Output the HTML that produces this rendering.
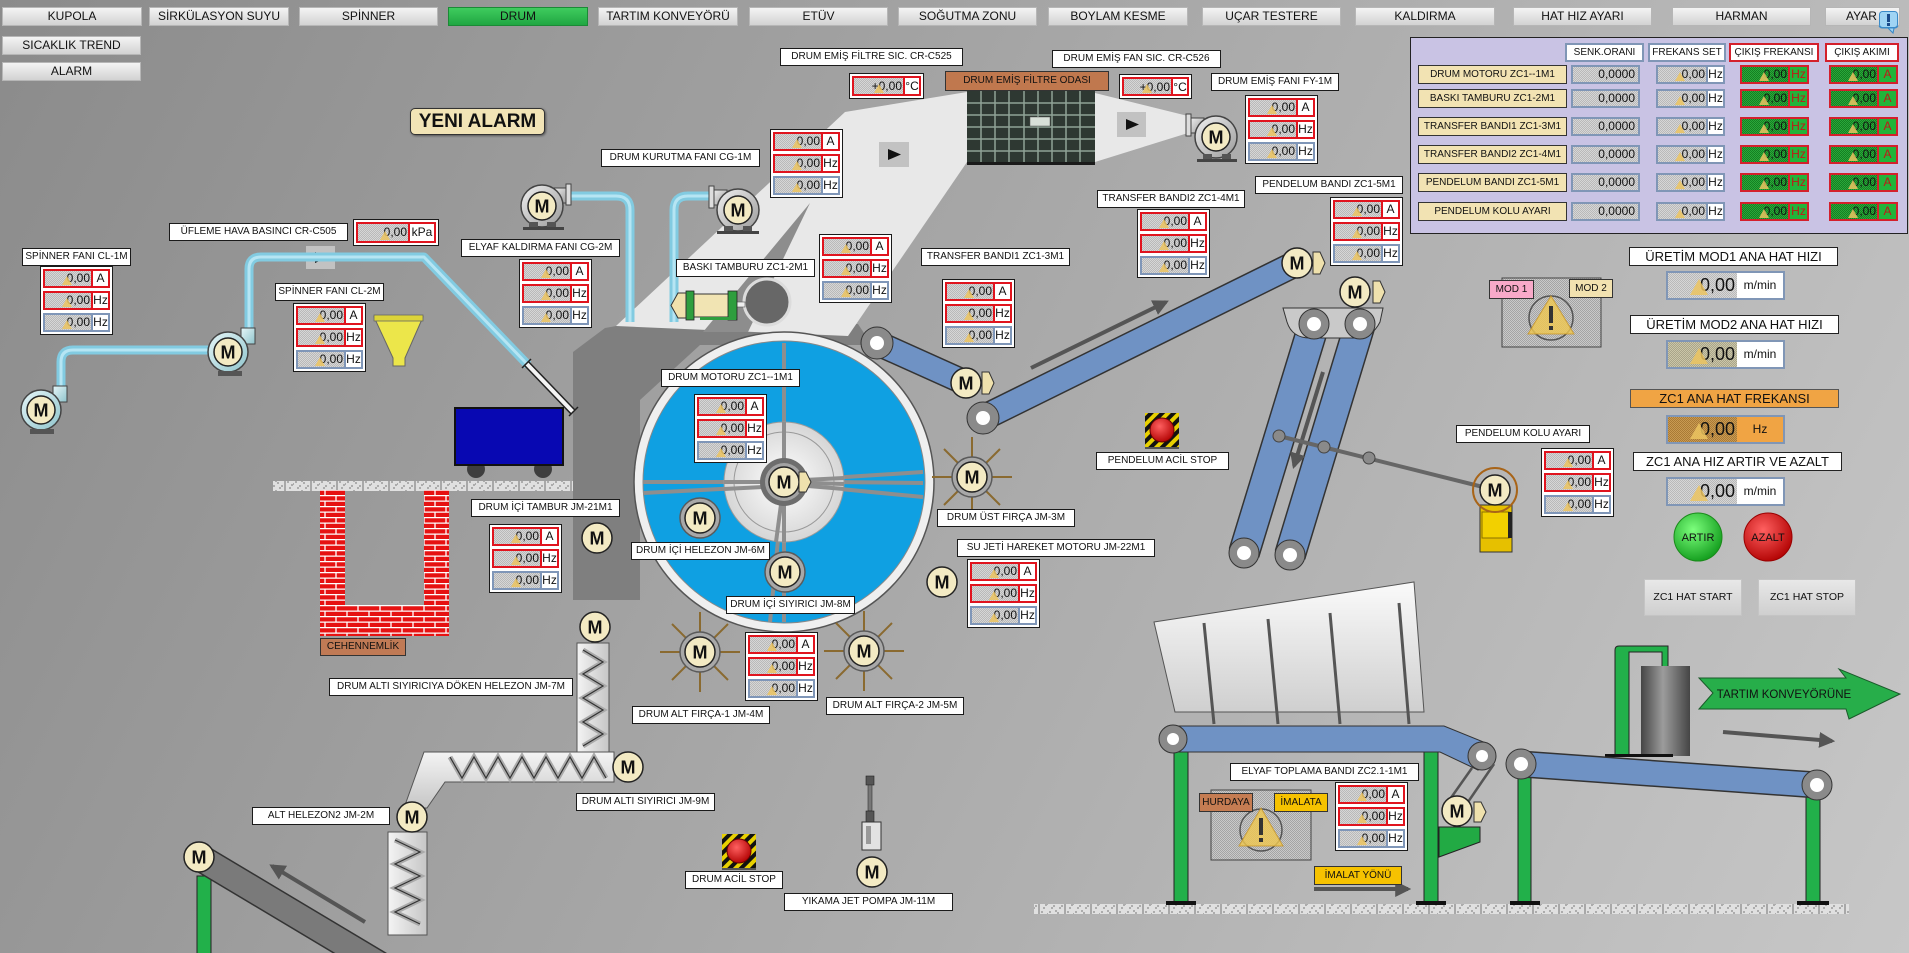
<!DOCTYPE html>
<html><head><meta charset="utf-8">
<style>
*{margin:0;padding:0;box-sizing:border-box}
html,body{width:1909px;height:953px;overflow:hidden}
body{position:relative;font-family:"Liberation Sans",Arial,sans-serif;color:#111;background:#9b9b9b}
#g{position:absolute;left:0;top:0}
svg text{font-family:"Liberation Sans",Arial,sans-serif}
text.m{font-weight:bold;font-size:18px;text-anchor:middle;fill:#111}
.nb{position:absolute;top:7px;height:19px;background:linear-gradient(#f4f4f4,#d2d2d2);border:1px solid #b6b6b6;font-size:12px;line-height:17px;text-align:center;white-space:nowrap}
.nb.on{background:linear-gradient(#3fcc5e,#20a642);border-color:#1b8a36}
.lb{position:absolute;height:18px;background:#fff;border:1px solid #1a1a1a;font-size:10px;line-height:16px;text-align:center;white-space:nowrap}
.bx{position:absolute;width:73px;height:69px;background:#fff;border:1px solid #1a1a1a}
.r{position:absolute;left:2px;width:67px;height:19px;border:2px solid #e0141e;background:#fff}
.r1{top:2px}.r2{top:24px}.r3{top:46px;border-color:#7f96b8}
.v{position:absolute;left:0;top:0;width:46px;height:15px;background:repeating-conic-gradient(#b9b9b9 0 25%,#d6d6d6 0 50%) 0 0/2px 2px;font-size:12px;line-height:15px;text-align:right;padding-right:1px;white-space:nowrap}
.u{position:absolute;left:46px;top:0;right:0;height:15px;border-left:2px solid #e0141e;background:#fff;font-size:12px;line-height:15px;text-align:center}
.r3 .u{border-left-color:#7f96b8}
.t{position:absolute;left:17px;bottom:1px;width:0;height:0;border-left:5px solid transparent;border-right:5px solid transparent;border-bottom:9px solid rgba(236,196,96,.85)}
.sb{position:absolute;background:#fff;border:1px solid #1a1a1a}
.sr{position:absolute;left:2px;top:2px;right:2px;bottom:2px;border:2px solid #e0141e;background:#fff}
.sr .v{height:100%;line-height:17px}
.sr .u{height:100%;line-height:17px}
.pn{position:absolute;left:1410px;top:37px;width:498px;height:197px;background:#c9c3e4;border:1px solid #222}
.ph{position:absolute;top:43px;height:19px;background:#fff;border:2px solid #8096b6;font-size:10px;line-height:15px;text-align:center;white-space:nowrap}
.ph.rd{border-color:#d4202c}
.pl{position:absolute;left:1418px;width:149px;height:19px;background:#f2e3b3;border:1px solid #333;font-size:10px;line-height:17px;text-align:center;white-space:nowrap}
.ps{position:absolute;left:1571px;width:69px;height:19px;border:2px solid #8096b6;background:repeating-conic-gradient(#b9b9b9 0 25%,#d6d6d6 0 50%) 0 0/2px 2px;font-size:12px;line-height:15px;text-align:right;padding-right:3px}
.pf{position:absolute;left:1656px;width:69px;height:19px;border:2px solid #8096b6;background:#fff}
.pf .v{width:48px}.pf .u{left:48px;border-left:2px solid #8096b6}
.pg{position:absolute;width:69px;height:19px;border:2px solid #d4202c;background:#2aa83a}
.pg .v{background:repeating-conic-gradient(#157f22 0 25%,#2aa83a 0 50%) 0 0/2px 2px;width:46px}
.pg .u{background:#22b43a;border-left:2px solid #d4202c;color:#c01818}
.bl{position:absolute;height:19px;background:#fff;border:1px solid #222;font-size:13px;line-height:17px;text-align:center;white-space:nowrap}
.bb{position:absolute;left:1666px;width:119px;height:29px;border:2px solid #8096b6;background:#fff}
.bb .v{width:69px;height:25px;font-size:18px;line-height:25px;padding-right:2px}
.bb .u{left:69px;height:25px;border-left:none;font-size:12px;line-height:25px}
.bb .t{left:22px;bottom:3px;border-left-width:9px;border-right-width:9px;border-bottom-width:16px}
.btn{position:absolute;top:579px;width:98px;height:37px;background:linear-gradient(#e8e8e8,#cfcfcf);border:1px solid #c4c4c4;font-size:10.5px;line-height:35px;text-align:center}
.tag{position:absolute;height:19px;border:1px solid #333;font-size:10px;line-height:17px;text-align:center;white-space:nowrap}
</style></head><body>
<svg id="g" width="1909" height="953" viewBox="0 0 1909 953">
<defs>
<linearGradient id="bg" x1="0" y1="0" x2="1909" y2="953" gradientUnits="userSpaceOnUse"><stop offset="0" stop-color="#8b8b8b"/><stop offset="1" stop-color="#c7c7c7"/></linearGradient>
<pattern id="brick" width="22" height="11" patternUnits="userSpaceOnUse"><rect width="22" height="11" fill="#e61212"/><path d="M0 .6H22M0 6.1H22M6 0V5.5M17 5.5V11" stroke="#fff" stroke-width="1.3"/></pattern>
<pattern id="gnd" width="26" height="10" patternUnits="userSpaceOnUse"><rect width="26" height="10" fill="#e0e0e0"/><path d="M1 2h2M5 5h2M9 2h2M13 6h2M17 3h2M21 6h2M3 8h2M11 8h2M19 8h2M7 4h1M15 1h2" stroke="#9a9a9a" stroke-width="1.5"/><rect x="24" width="2" height="10" fill="#a8a8a8"/></pattern>
<pattern id="hz" width="8" height="8" patternUnits="userSpaceOnUse" patternTransform="rotate(45)"><rect width="8" height="8" fill="#e8d000"/><rect width="4" height="8" fill="#111"/></pattern>
<pattern id="chk" width="2" height="2" patternUnits="userSpaceOnUse"><rect width="2" height="2" fill="#c9c9c9"/><rect width="1" height="1" fill="#a4a4a4"/><rect x="1" y="1" width="1" height="1" fill="#a4a4a4"/></pattern>
<radialGradient id="red" cx=".4" cy=".35" r=".7"><stop offset="0" stop-color="#ff6060"/><stop offset="1" stop-color="#b00000"/></radialGradient>
<radialGradient id="grn" cx=".4" cy=".35" r=".7"><stop offset="0" stop-color="#7dff7d"/><stop offset="1" stop-color="#0f9a1a"/></radialGradient>
<radialGradient id="inner"><stop offset="0" stop-color="#ffffff"/><stop offset="1" stop-color="#d6d6d6"/></radialGradient>
<linearGradient id="scr" x1="0" y1="0" x2="1" y2="0"><stop offset="0" stop-color="#f4f4f4"/><stop offset="1" stop-color="#c6c6c6"/></linearGradient>
<linearGradient id="scrh" x1="0" y1="0" x2="0" y2="1"><stop offset="0" stop-color="#f4f4f4"/><stop offset="1" stop-color="#c6c6c6"/></linearGradient>
<linearGradient id="hop" x1="0" y1="0" x2="0" y2="1"><stop offset="0" stop-color="#fafafa"/><stop offset="1" stop-color="#cfcfcf"/></linearGradient>
<linearGradient id="cyl" x1="0" y1="0" x2="1" y2="0"><stop offset="0" stop-color="#454545"/><stop offset=".45" stop-color="#9c9c9c"/><stop offset="1" stop-color="#454545"/></linearGradient>
<linearGradient id="fan" x1="0" y1="0" x2="1" y2="1"><stop offset="0" stop-color="#f0f0f0"/><stop offset="1" stop-color="#9a9a9a"/></linearGradient>
<linearGradient id="fanc" x1="0" y1="0" x2="1" y2="1"><stop offset="0" stop-color="#e6f6f8"/><stop offset="1" stop-color="#8fc4cc"/></linearGradient>
<marker id="ar" viewBox="0 0 10 10" refX="8" refY="5" markerWidth="4" markerHeight="4" orient="auto"><path d="M0 0L10 5L0 10z" fill="#555"/></marker>
</defs>
<rect width="1909" height="953" fill="url(#bg)"/>

<!-- housing -->
<polygon points="573,352 605,328 650,320 858,324 872,345 700,345 640,400 640,600 573,600" fill="#7f7f7f"/>
<!-- white duct -->
<polygon points="616,326 845,112 967,92 967,162 848,336" fill="#e8e8e8"/>
<polygon points="810,203 748,332 703,332" fill="#8d8d8d"/>
<polygon points="1095,93 1188,116 1188,133 1095,162" fill="#e8e8e8"/>
<!-- filter -->
<rect x="967" y="91" width="128" height="71" fill="#2e3832"/>
<g stroke="#8fa396" stroke-width="1.5">
<path d="M981 91V162M995 91V162M1009 91V162M1024 91V162M1038 91V162M1052 91V162M1066 91V162M1080 91V162"/>
<path d="M967 103H1095M967 115H1095M967 127H1095M967 139H1095M967 151H1095"/>
</g>
<rect x="1030" y="117" width="20" height="9" fill="#d8e0d8" stroke="#555" stroke-width=".5"/>
<rect x="967" y="162" width="128" height="3" fill="#1a1a1a"/>
<!-- play buttons -->
<rect x="306" y="246" width="29" height="23" fill="#c2c2c2"/><polygon points="315,252 327,257.5 315,263" fill="#111"/>
<rect x="879" y="142" width="30" height="25" fill="#c2c2c2"/><polygon points="888,149 901,154.5 888,160" fill="#111"/>
<rect x="1117" y="112" width="29" height="25" fill="#c2c2c2"/><polygon points="1126,119 1139,124.5 1126,130" fill="#111"/>

<!-- pipes -->
<g fill="none" stroke-linejoin="round">
<path d="M61,392 V362 Q61,350 73,350 H212 M249,332 V269 Q249,257 261,257 H424 L528,365 M567,196 H616 Q630,196 630,210 V322 M712,196 H688 Q674,196 674,210 V322" stroke="#82cbe1" stroke-width="9"/>
<path d="M61,392 V362 Q61,350 73,350 H212 M249,332 V269 Q249,257 261,257 H424 L528,365 M567,196 H616 Q630,196 630,210 V322 M712,196 H688 Q674,196 674,210 V322" stroke="#b6e5f3" stroke-width="3"/>
</g>
<line x1="526" y1="363" x2="573" y2="412" stroke="#222" stroke-width="7"/>
<line x1="526" y1="363" x2="573" y2="412" stroke="#f4f4f4" stroke-width="4"/>
<line x1="522" y1="368" x2="531" y2="359" stroke="#222" stroke-width="1.5"/>
<line x1="569" y1="416" x2="578" y2="407" stroke="#222" stroke-width="1.5"/>

<!-- fans -->
<rect x="53" y="386" width="14" height="16" fill="url(#fanc)" stroke="#444"/>
<circle cx="41" cy="410" r="20" fill="url(#fanc)" stroke="#444" stroke-width="1.5"/>
<rect x="30" y="429" width="24" height="5" fill="#555"/>
<circle cx="41" cy="410" r="14" fill="#f3eac3" stroke="#222" stroke-width="1.5"/><text class="m" x="41" y="416.5">M</text>

<rect x="241" y="328" width="14" height="16" fill="url(#fanc)" stroke="#444"/>
<circle cx="228" cy="352" r="20" fill="url(#fanc)" stroke="#444" stroke-width="1.5"/>
<rect x="218" y="371" width="24" height="5" fill="#555"/>
<circle cx="228" cy="352" r="14" fill="#f3eac3" stroke="#222" stroke-width="1.5"/><text class="m" x="228" y="358.5">M</text>

<rect x="553" y="188" width="14" height="15" fill="url(#fan)" stroke="#444"/><rect x="566" y="184" width="5" height="21" fill="#ddd" stroke="#444"/>
<circle cx="542" cy="206" r="21" fill="url(#fan)" stroke="#444" stroke-width="1.5"/>
<rect x="529" y="222" width="9" height="6" fill="#555"/><rect x="547" y="222" width="9" height="6" fill="#555"/><rect x="523" y="227" width="41" height="3" fill="#444"/>
<circle cx="542" cy="206" r="14" fill="#f3eac3" stroke="#222" stroke-width="1.5"/><text class="m" x="542" y="212.5">M</text>

<rect x="713" y="190" width="14" height="15" fill="url(#fan)" stroke="#444"/><rect x="709" y="186" width="5" height="22" fill="#ddd" stroke="#444"/>
<circle cx="738" cy="210" r="21" fill="url(#fan)" stroke="#444" stroke-width="1.5"/>
<rect x="724" y="226" width="9" height="6" fill="#555"/><rect x="743" y="226" width="9" height="6" fill="#555"/><rect x="717" y="231" width="42" height="3" fill="#444"/>
<circle cx="738" cy="210" r="14" fill="#f3eac3" stroke="#222" stroke-width="1.5"/><text class="m" x="738" y="216.5">M</text>

<rect x="1190" y="118" width="14" height="15" fill="url(#fan)" stroke="#444"/><rect x="1186" y="114" width="5" height="22" fill="#ddd" stroke="#444"/>
<circle cx="1216" cy="137" r="21" fill="url(#fan)" stroke="#444" stroke-width="1.5"/>
<rect x="1203" y="154" width="9" height="6" fill="#555"/><rect x="1222" y="154" width="9" height="6" fill="#555"/><rect x="1197" y="159" width="40" height="3" fill="#444"/>
<circle cx="1216" cy="137" r="14" fill="#f3eac3" stroke="#222" stroke-width="1.5"/><text class="m" x="1216" y="143.5">M</text>

<!-- funnel -->
<polygon points="374,317 423,317 405,358 405,366 393,366 393,358" fill="#ece64a" stroke="#666"/>
<rect x="374" y="315" width="49" height="6" fill="#dcd43a" stroke="#666" stroke-width=".8"/>
<!-- cart -->
<circle cx="476" cy="469" r="9" fill="#3e3e3e"/><circle cx="543" cy="469" r="9" fill="#3e3e3e"/>
<rect x="455" y="408" width="108" height="57" fill="#0808b2" stroke="#111" stroke-width="2"/>

<!-- ground strips -->
<rect x="273" y="481" width="300" height="10" fill="url(#gnd)"/>
<rect x="1034" y="904" width="815" height="10" fill="url(#gnd)"/>
<!-- bricks -->
<rect x="320" y="490" width="25" height="116" fill="url(#brick)"/>
<rect x="424" y="490" width="25" height="116" fill="url(#brick)"/>
<rect x="320" y="605" width="129" height="31" fill="url(#brick)"/>

<!-- baski tamburu -->
<circle cx="767" cy="302" r="23" fill="#676767" stroke="#dcdcdc" stroke-width="3"/>
<rect x="736" y="302" width="9" height="5" fill="#eee" stroke="#555" stroke-width=".6"/>
<rect x="693" y="294" width="36" height="23" fill="#f1e4b3" stroke="#333"/>
<rect x="686" y="291" width="8" height="29" fill="#2e9e3e" stroke="#222" stroke-width=".8"/>
<rect x="728" y="291" width="9" height="29" fill="#2e9e3e" stroke="#222" stroke-width=".8"/>
<rect x="700" y="317" width="36" height="3" fill="#2e9e3e"/>
<path d="M678,293 h8 v25 h-8 l-7,-12.5z" fill="#efe1ad" stroke="#333"/>

<!-- drum -->
<circle cx="784" cy="482" r="150" fill="#efefef" stroke="#555" stroke-width="1.5"/>
<circle cx="784" cy="482" r="141" fill="#0fa0e2" stroke="#888"/>
<g stroke="#8e8e8e" stroke-width="4">
<line x1="643" y1="482" x2="740" y2="482"/><line x1="643" y1="493" x2="740" y2="488"/>
<line x1="923" y1="472" x2="830" y2="478"/><line x1="923" y1="483" x2="830" y2="482"/><line x1="923" y1="497" x2="830" y2="488"/>
<line x1="784" y1="343" x2="784" y2="430"/><line x1="784" y1="540" x2="784" y2="622"/><line x1="778" y1="540" x2="770" y2="622"/>
</g>
<circle cx="784" cy="482" r="60" fill="url(#inner)" stroke="#9a9a9a"/>
<circle cx="784" cy="482" r="50" fill="none" stroke="#999"/>
<g stroke="#8e8e8e" stroke-width="4">
<line x1="724" y1="482" x2="784" y2="482"/><line x1="724" y1="489" x2="784" y2="486"/>
<line x1="844" y1="478" x2="784" y2="481"/><line x1="844" y1="484" x2="784" y2="482"/><line x1="844" y1="489" x2="784" y2="484"/>
<line x1="784" y1="422" x2="784" y2="542"/><line x1="784" y1="482" x2="776" y2="542"/>
</g>
<circle cx="784" cy="482" r="24" fill="#6d6d6d"/><circle cx="784" cy="482" r="19" fill="#a3a3a3"/>
<circle cx="784" cy="482" r="15" fill="#f3eac3" stroke="#222" stroke-width="1.5"/><text class="m" x="784" y="488.5">M</text>
<path d="M799,472 h7 l5,10 l-5,10 h-7z" fill="#efe1ad" stroke="#333"/>
<circle cx="700" cy="518" r="20" fill="#a8a8a8" stroke="#5a5a5a" stroke-width="1.5"/>
<circle cx="700" cy="518" r="15" fill="#f3eac3" stroke="#222" stroke-width="1.5"/><text class="m" x="700" y="524.5">M</text>
<circle cx="785" cy="572" r="20" fill="#a8a8a8" stroke="#5a5a5a" stroke-width="1.5"/>
<circle cx="785" cy="572" r="15" fill="#f3eac3" stroke="#222" stroke-width="1.5"/><text class="m" x="785" y="578.5">M</text>

<!-- brushes -->
<g stroke="#8a6a30" stroke-width="2">
<path d="M932,477h80M972,437v80M944,449l56,56M1000,449l-56,56"/>
<path d="M660,652h80M700,612v80M672,624l56,56M728,624l-56,56"/>
<path d="M824,651h80M864,611v80M836,623l56,56M892,623l-56,56"/>
</g>
<circle cx="972" cy="477" r="20" fill="#a8a8a8" stroke="#5a5a5a" stroke-width="1.5"/><circle cx="972" cy="477" r="15" fill="#f3eac3" stroke="#222" stroke-width="1.5"/><text class="m" x="972" y="483.5">M</text>
<circle cx="700" cy="652" r="20" fill="#a8a8a8" stroke="#5a5a5a" stroke-width="1.5"/><circle cx="700" cy="652" r="15" fill="#f3eac3" stroke="#222" stroke-width="1.5"/><text class="m" x="700" y="658.5">M</text>
<circle cx="864" cy="651" r="20" fill="#a8a8a8" stroke="#5a5a5a" stroke-width="1.5"/><circle cx="864" cy="651" r="15" fill="#f3eac3" stroke="#222" stroke-width="1.5"/><text class="m" x="864" y="657.5">M</text>

<!-- plain motors -->
<circle cx="597" cy="538" r="15" fill="#f3eac3" stroke="#222" stroke-width="1.5"/><text class="m" x="597" y="544.5">M</text>
<circle cx="942" cy="582" r="15" fill="#f3eac3" stroke="#222" stroke-width="1.5"/><text class="m" x="942" y="588.5">M</text>

<!-- transfer bands -->
<line x1="877" y1="343" x2="966" y2="383" stroke="#333" stroke-width="26" stroke-linecap="round"/>
<line x1="877" y1="343" x2="966" y2="383" stroke="#6f92c4" stroke-width="23" stroke-linecap="round"/>
<line x1="983" y1="418" x2="1297" y2="263" stroke="#333" stroke-width="27" stroke-linecap="round"/>
<line x1="983" y1="418" x2="1297" y2="263" stroke="#6f92c4" stroke-width="24" stroke-linecap="round"/>
<circle cx="877" cy="343" r="16" fill="#8a8a8a" stroke="#333"/><circle cx="877" cy="343" r="7" fill="#fff"/>
<circle cx="983" cy="418" r="16" fill="#8a8a8a" stroke="#333"/><circle cx="983" cy="418" r="7" fill="#fff"/>
<circle cx="966" cy="383" r="15" fill="#f3eac3" stroke="#222" stroke-width="1.5"/><text class="m" x="966" y="389.5">M</text>
<path d="M982,372 h7 l5,11 l-5,11 h-7z" fill="#efe1ad" stroke="#333"/>
<line x1="1031" y1="368" x2="1166" y2="302" stroke="#555" stroke-width="4" marker-end="url(#ar)"/>

<!-- pendulum -->
<polygon points="1329,336 1346,336 1276,553 1259,553" fill="#b3b3b3"/>
<line x1="1314" y1="324" x2="1244" y2="553" stroke="#333" stroke-width="32"/>
<line x1="1314" y1="324" x2="1244" y2="553" stroke="#6f92c4" stroke-width="29"/>
<line x1="1360" y1="324" x2="1290" y2="555" stroke="#333" stroke-width="32"/>
<line x1="1360" y1="324" x2="1290" y2="555" stroke="#6f92c4" stroke-width="29"/>
<line x1="1323" y1="372" x2="1294" y2="466" stroke="#555" stroke-width="4" marker-end="url(#ar)"/>
<path d="M1283,308 H1383 L1380,322 Q1372,338 1356,338 L1310,338 Q1292,338 1287,322 Z" fill="#c9c9c9" stroke="#333"/>
<circle cx="1314" cy="324" r="15" fill="#8a8a8a" stroke="#333"/><circle cx="1314" cy="324" r="7" fill="#fff"/>
<circle cx="1360" cy="324" r="15" fill="#8a8a8a" stroke="#333"/><circle cx="1360" cy="324" r="7" fill="#fff"/>
<circle cx="1244" cy="553" r="15" fill="#8a8a8a" stroke="#333"/><circle cx="1244" cy="553" r="7" fill="#fff"/>
<circle cx="1290" cy="555" r="15" fill="#8a8a8a" stroke="#333"/><circle cx="1290" cy="555" r="7" fill="#fff"/>
<line x1="1279" y1="436" x2="1495" y2="490" stroke="#666" stroke-width="4"/>
<circle cx="1279" cy="436" r="6" fill="#8a8a8a" stroke="#444"/><circle cx="1324" cy="447" r="6" fill="#8a8a8a" stroke="#444"/><circle cx="1369" cy="458" r="6" fill="#8a8a8a" stroke="#444"/>
<rect x="1480" y="505" width="32" height="47" fill="#e6c000" stroke="#333"/>
<rect x="1482" y="512" width="27" height="26" fill="#f2d000" stroke="#8a7000"/>
<rect x="1508" y="512" width="4" height="26" fill="#222"/>
<circle cx="1495" cy="490" r="22" fill="none" stroke="#a86418" stroke-width="2"/>
<circle cx="1495" cy="490" r="15" fill="#f3eac3" stroke="#222" stroke-width="1.5"/><text class="m" x="1495" y="496.5">M</text>
<circle cx="1297" cy="263" r="15" fill="#f3eac3" stroke="#222" stroke-width="1.5"/><text class="m" x="1297" y="269.5">M</text>
<path d="M1313,252 h7 l5,11 l-5,11 h-7z" fill="#efe1ad" stroke="#333"/>
<circle cx="1355" cy="292" r="15" fill="#f3eac3" stroke="#222" stroke-width="1.5"/><text class="m" x="1355" y="298.5">M</text>
<path d="M1373,281 h7 l5,11 l-5,11 h-7z" fill="#efe1ad" stroke="#333"/>

<!-- stop buttons -->
<rect x="722" y="834" width="34" height="34" fill="url(#hz)"/><circle cx="739" cy="851" r="12" fill="url(#red)" stroke="#600"/><rect x="722" y="868" width="34" height="2" fill="#555"/>
<rect x="1145" y="413" width="34" height="34" fill="url(#hz)"/><circle cx="1162" cy="430" r="12" fill="url(#red)" stroke="#600"/><rect x="1145" y="447" width="34" height="2" fill="#555"/>

<!-- screws -->
<rect x="577" y="643" width="32" height="109" fill="url(#scr)" stroke="#555"/>
<path d="M583,650 L603,662 L583,674 L603,686 L583,698 L603,710 L583,722 L603,734 L583,746" fill="none" stroke="#aaa" stroke-width="5"/>
<path d="M583,650 L603,662 L583,674 L603,686 L583,698 L603,710 L583,722 L603,734 L583,746" fill="none" stroke="#333" stroke-width="1.2"/>
<polygon points="424,752 614,752 614,782 445,782 427,808 404,808" fill="url(#scrh)" stroke="#555"/>
<path d="M450,757 L462,778 L474,757 L486,778 L498,757 L510,778 L522,757 L534,778 L546,757 L558,778 L570,757 L582,778 L594,757 L606,778" fill="none" stroke="#aaa" stroke-width="5"/>
<path d="M450,757 L462,778 L474,757 L486,778 L498,757 L510,778 L522,757 L534,778 L546,757 L558,778 L570,757 L582,778 L594,757 L606,778" fill="none" stroke="#333" stroke-width="1.2"/>
<rect x="388" y="832" width="39" height="103" fill="url(#scr)" stroke="#555"/>
<path d="M395,840 L420,852 L395,864 L420,876 L395,888 L420,900 L395,912 L420,924" fill="none" stroke="#aaa" stroke-width="5"/>
<path d="M395,840 L420,852 L395,864 L420,876 L395,888 L420,900 L395,912 L420,924" fill="none" stroke="#333" stroke-width="1.2"/>
<circle cx="595" cy="627" r="15" fill="#f3eac3" stroke="#222" stroke-width="1.5"/><text class="m" x="595" y="633.5">M</text>
<circle cx="628" cy="767" r="15" fill="#f3eac3" stroke="#222" stroke-width="1.5"/><text class="m" x="628" y="773.5">M</text>
<circle cx="412" cy="817" r="15" fill="#f3eac3" stroke="#222" stroke-width="1.5"/><text class="m" x="412" y="823.5">M</text>

<!-- bottom-left conveyor -->
<rect x="197" y="876" width="14" height="80" fill="#22b04a" stroke="#222"/>
<line x1="199" y1="857" x2="430" y2="995" stroke="#333" stroke-width="28"/>
<line x1="199" y1="857" x2="430" y2="995" stroke="#7a7a7a" stroke-width="25"/>
<line x1="365" y1="922" x2="272" y2="866" stroke="#555" stroke-width="4" marker-end="url(#ar)"/>
<circle cx="199" cy="857" r="15" fill="#f3eac3" stroke="#222" stroke-width="1.5"/><text class="m" x="199" y="863.5">M</text>

<!-- yikama pump -->
<rect x="866" y="776" width="8" height="9" fill="#555" stroke="#222" stroke-width=".6"/>
<rect x="868" y="785" width="4" height="26" fill="#777" stroke="#333" stroke-width=".6"/>
<rect x="866" y="811" width="8" height="11" fill="#555" stroke="#222" stroke-width=".6"/>
<rect x="862" y="822" width="19" height="28" fill="#e2e2e2" stroke="#333"/>
<rect x="866" y="826" width="5" height="18" fill="#999"/>
<circle cx="872" cy="872" r="15" fill="#f3eac3" stroke="#222" stroke-width="1.5"/><text class="m" x="872" y="878.5">M</text>

<!-- bottom right -->
<polygon points="1154,622 1414,582 1424,712 1175,712" fill="url(#hop)" stroke="#555"/>
<g stroke="#555" stroke-width="3"><line x1="1204" y1="623" x2="1214" y2="724"/><line x1="1268" y1="619" x2="1278" y2="724"/><line x1="1330" y1="613" x2="1340" y2="724"/><line x1="1399" y1="603" x2="1409" y2="724"/></g>
<rect x="1174" y="752" width="14" height="151" fill="#22b04a" stroke="#222"/>
<rect x="1424" y="751" width="14" height="152" fill="#22b04a" stroke="#222"/>
<polygon points="1173,726 1444,726 1486,743 1478,770 1440,752 1173,752" fill="#6f92c4" stroke="#333"/>
<circle cx="1173" cy="739" r="14" fill="#8a8a8a" stroke="#333"/><circle cx="1173" cy="739" r="6" fill="#fff"/>
<circle cx="1482" cy="756" r="14" fill="#8a8a8a" stroke="#333"/><circle cx="1482" cy="756" r="6" fill="#fff"/>
<line x1="1472" y1="768" x2="1448" y2="802" stroke="#555" stroke-width="2.5"/><line x1="1494" y1="764" x2="1468" y2="802" stroke="#555" stroke-width="2.5"/>
<polygon points="1439,827 1480,827 1480,842 1439,857" fill="#22aa44" stroke="#222"/>
<circle cx="1457" cy="811" r="15" fill="#f3eac3" stroke="#222" stroke-width="1.5"/><text class="m" x="1457" y="817.5">M</text>
<path d="M1474,802 h7 l5,10 l-5,10 h-7z" fill="#efe1ad" stroke="#333"/>
<rect x="1166" y="901" width="30" height="4" fill="#111"/><rect x="1416" y="901" width="30" height="4" fill="#111"/>
<line x1="1314" y1="889" x2="1408" y2="889" stroke="#555" stroke-width="4" marker-end="url(#ar)"/>

<rect x="1518" y="776" width="13" height="127" fill="#22b04a" stroke="#222"/>
<rect x="1806" y="793" width="14" height="110" fill="#22b04a" stroke="#222"/>
<rect x="1510" y="901" width="30" height="4" fill="#111"/><rect x="1797" y="901" width="32" height="4" fill="#111"/>
<path d="M1615,756 V650 Q1615,646 1619,646 H1668 V668 H1662 V652 H1629 V756 Z" fill="#22b04a" stroke="#222"/>
<rect x="1641" y="666" width="49" height="90" fill="url(#cyl)"/>
<rect x="1605" y="754" width="68" height="3" fill="#111"/>
<line x1="1521" y1="764" x2="1817" y2="785" stroke="#333" stroke-width="27"/>
<line x1="1521" y1="764" x2="1817" y2="785" stroke="#6f92c4" stroke-width="24"/>
<circle cx="1521" cy="764" r="15" fill="#8a8a8a" stroke="#333"/><circle cx="1521" cy="764" r="7" fill="#fff"/>
<circle cx="1817" cy="785" r="15" fill="#8a8a8a" stroke="#333"/><circle cx="1817" cy="785" r="7" fill="#fff"/>
<line x1="1723" y1="732" x2="1832" y2="741" stroke="#555" stroke-width="4" marker-end="url(#ar)"/>
<polygon points="1699,678 1846,678 1839,669 1900,694 1849,719 1846,709 1699,709 1713,693" fill="#27ae4a" stroke="#1a5a2a"/>
<text x="1784" y="698" font-size="11.5" text-anchor="middle" fill="#111">TARTIM KONVEYÖRÜNE</text>

<!-- warning widgets -->
<rect x="1502" y="278" width="99" height="69" fill="url(#chk)" stroke="#444"/>
<circle cx="1551" cy="318" r="22" fill="none" stroke="#555" stroke-width="1.5"/>
<polygon points="1551,296 1574,334 1528,334" fill="rgba(240,200,80,.8)" stroke="rgba(200,150,40,.8)"/>
<rect x="1549" y="306" width="4" height="17" fill="#333"/><rect x="1549" y="326" width="4" height="4" fill="#333"/>
<rect x="1211" y="790" width="100" height="70" fill="url(#chk)" stroke="#444"/>
<circle cx="1261" cy="830" r="21" fill="none" stroke="#555" stroke-width="1.5"/>
<polygon points="1261,808 1283,846 1239,846" fill="rgba(240,200,80,.8)" stroke="rgba(200,150,40,.8)"/>
<rect x="1259" y="818" width="4" height="17" fill="#333"/><rect x="1259" y="838" width="4" height="4" fill="#333"/>

<!-- artir azalt -->
<circle cx="1698" cy="537" r="24" fill="url(#grn)" stroke="#1a8a1a"/>
<text x="1698" y="541" font-size="11" text-anchor="middle" fill="#111">ARTIR</text>
<circle cx="1768" cy="537" r="24" fill="url(#red)" stroke="#900"/>
<text x="1768" y="541" font-size="11" text-anchor="middle" fill="#111">AZALT</text>

<!-- ayar icon -->
<rect x="1879" y="11" width="19" height="17" rx="3" fill="#9fd4f4" stroke="#3a8ac8"/>
<polygon points="1888,28 1894,28 1893,33" fill="#9fd4f4" stroke="#3a8ac8"/>
<rect x="1887" y="14" width="3" height="8" fill="#1a4a8a"/><rect x="1887" y="23" width="3" height="3" fill="#1a4a8a"/>
</svg>

<!-- nav -->
<div class="nb" style="left:2px;width:140px">KUPOLA</div>
<div class="nb" style="left:149px;width:140px">SİRKÜLASYON SUYU</div>
<div class="nb" style="left:299px;width:139px">SPİNNER</div>
<div class="nb on" style="left:448px;width:140px">DRUM</div>
<div class="nb" style="left:598px;width:140px">TARTIM KONVEYÖRÜ</div>
<div class="nb" style="left:749px;width:139px">ETÜV</div>
<div class="nb" style="left:898px;width:139px">SOĞUTMA ZONU</div>
<div class="nb" style="left:1048px;width:140px">BOYLAM KESME</div>
<div class="nb" style="left:1202px;width:139px">UÇAR TESTERE</div>
<div class="nb" style="left:1355px;width:140px">KALDIRMA</div>
<div class="nb" style="left:1513px;width:139px">HAT HIZ AYARI</div>
<div class="nb" style="left:1672px;width:139px">HARMAN</div>
<div class="nb" style="left:1825px;width:75px;text-align:left;padding-left:20px;background:linear-gradient(#f4f4f4,#d2d2d2)">AYAR</div>
<div class="nb" style="left:2px;top:36px;width:139px">SICAKLIK TREND</div>
<div class="nb" style="left:2px;top:62px;width:139px">ALARM</div>
<svg style="position:absolute;left:1879px;top:11px" width="22" height="24"><rect x=".5" y=".5" width="18" height="16" rx="3" fill="#9fd4f4" stroke="#3a8ac8"/><polygon points="9,17 15,17 14,22" fill="#9fd4f4" stroke="#3a8ac8"/><rect x="8" y="3" width="3" height="8" fill="#1a4a8a"/><rect x="8" y="12" width="3" height="3" fill="#1a4a8a"/></svg>

<div style="position:absolute;left:410px;top:108px;width:135px;height:27px;background:#f2e4b6;border:1px solid #333;border-radius:5px;box-shadow:1px 1px 2px #555;font-weight:bold;font-size:19px;line-height:25px;text-align:center">YENI ALARM</div>

<!-- labels -->
<div class="lb" style="left:22px;top:248px;width:109px">SPİNNER FANI CL-1M</div>
<div class="lb" style="left:169px;top:223px;width:179px">ÜFLEME HAVA BASINCI CR-C505</div>
<div class="lb" style="left:275px;top:283px;width:109px">SPİNNER FANI CL-2M</div>
<div class="lb" style="left:461px;top:239px;width:159px">ELYAF KALDIRMA FANI CG-2M</div>
<div class="lb" style="left:601px;top:149px;width:159px">DRUM KURUTMA FANI CG-1M</div>
<div class="lb" style="left:676px;top:259px;width:139px">BASKI TAMBURU ZC1-2M1</div>
<div class="lb" style="left:921px;top:248px;width:149px">TRANSFER BANDI1 ZC1-3M1</div>
<div class="lb" style="left:1097px;top:190px;width:148px">TRANSFER BANDI2 ZC1-4M1</div>
<div class="lb" style="left:780px;top:48px;width:183px">DRUM EMİŞ FİLTRE SIC. CR-C525</div>
<div class="lb" style="left:1052px;top:50px;width:169px">DRUM EMİŞ FAN SIC. CR-C526</div>
<div class="lb" style="left:1211px;top:73px;width:128px">DRUM EMİŞ FANI FY-1M</div>
<div class="lb" style="left:1255px;top:176px;width:148px">PENDELUM BANDI ZC1-5M1</div>
<div class="lb" style="left:661px;top:369px;width:139px">DRUM MOTORU ZC1--1M1</div>
<div class="lb" style="left:471px;top:499px;width:149px">DRUM İÇİ TAMBUR JM-21M1</div>
<div class="lb" style="left:631px;top:542px;width:139px">DRUM İÇİ HELEZON JM-6M</div>
<div class="lb" style="left:726px;top:596px;width:129px">DRUM İÇİ SIYIRICI JM-8M</div>
<div class="lb" style="left:937px;top:509px;width:138px">DRUM ÜST FIRÇA JM-3M</div>
<div class="lb" style="left:957px;top:539px;width:198px">SU JETİ HAREKET MOTORU JM-22M1</div>
<div class="lb" style="left:632px;top:706px;width:138px">DRUM ALT FIRÇA-1 JM-4M</div>
<div class="lb" style="left:826px;top:697px;width:138px">DRUM ALT FIRÇA-2 JM-5M</div>
<div class="lb" style="left:329px;top:678px;width:244px">DRUM ALTI SIYIRICIYA DÖKEN HELEZON JM-7M</div>
<div class="lb" style="left:576px;top:793px;width:139px">DRUM ALTI SIYIRICI JM-9M</div>
<div class="lb" style="left:252px;top:807px;width:138px">ALT HELEZON2 JM-2M</div>
<div class="lb" style="left:685px;top:871px;width:98px">DRUM ACİL STOP</div>
<div class="lb" style="left:784px;top:893px;width:169px">YIKAMA JET POMPA JM-11M</div>
<div class="lb" style="left:1096px;top:452px;width:133px">PENDELUM ACİL STOP</div>
<div class="lb" style="left:1456px;top:425px;width:134px">PENDELUM KOLU AYARI</div>
<div class="lb" style="left:1230px;top:763px;width:189px">ELYAF TOPLAMA BANDI ZC2.1-1M1</div>
<div class="tag" style="left:320px;top:638px;width:86px;height:18px;background:#c07a55;line-height:16px">CEHENNEMLİK</div>
<div class="tag" style="left:945px;top:71px;width:164px;height:20px;background:#c0784e;line-height:18px">DRUM EMİŞ FİLTRE ODASI</div>
<div class="tag" style="left:1489px;top:280px;width:45px;background:#f8a9c9">MOD 1</div>
<div class="tag" style="left:1569px;top:279px;width:44px;background:#f2e2b0">MOD 2</div>
<div class="tag" style="left:1199px;top:793px;width:54px;background:#c57c52">HURDAYA</div>
<div class="tag" style="left:1274px;top:793px;width:54px;background:#f6c200">İMALATA</div>
<div class="tag" style="left:1314px;top:866px;width:88px;background:#f6c200">İMALAT YÖNÜ</div>

<!-- 3-row boxes -->
<div class="bx" style="left:40px;top:266px"><div class="r r1"><div class="v"><i class="t"></i>0,00</div><div class="u">A</div></div><div class="r r2"><div class="v"><i class="t"></i>0,00</div><div class="u">Hz</div></div><div class="r r3"><div class="v"><i class="t"></i>0,00</div><div class="u">Hz</div></div></div>
<div class="bx" style="left:293px;top:303px"><div class="r r1"><div class="v"><i class="t"></i>0,00</div><div class="u">A</div></div><div class="r r2"><div class="v"><i class="t"></i>0,00</div><div class="u">Hz</div></div><div class="r r3"><div class="v"><i class="t"></i>0,00</div><div class="u">Hz</div></div></div>
<div class="bx" style="left:519px;top:259px"><div class="r r1"><div class="v"><i class="t"></i>0,00</div><div class="u">A</div></div><div class="r r2"><div class="v"><i class="t"></i>0,00</div><div class="u">Hz</div></div><div class="r r3"><div class="v"><i class="t"></i>0,00</div><div class="u">Hz</div></div></div>
<div class="bx" style="left:770px;top:129px"><div class="r r1"><div class="v"><i class="t"></i>0,00</div><div class="u">A</div></div><div class="r r2"><div class="v"><i class="t"></i>0,00</div><div class="u">Hz</div></div><div class="r r3"><div class="v"><i class="t"></i>0,00</div><div class="u">Hz</div></div></div>
<div class="bx" style="left:819px;top:234px"><div class="r r1"><div class="v"><i class="t"></i>0,00</div><div class="u">A</div></div><div class="r r2"><div class="v"><i class="t"></i>0,00</div><div class="u">Hz</div></div><div class="r r3"><div class="v"><i class="t"></i>0,00</div><div class="u">Hz</div></div></div>
<div class="bx" style="left:942px;top:279px"><div class="r r1"><div class="v"><i class="t"></i>0,00</div><div class="u">A</div></div><div class="r r2"><div class="v"><i class="t"></i>0,00</div><div class="u">Hz</div></div><div class="r r3"><div class="v"><i class="t"></i>0,00</div><div class="u">Hz</div></div></div>
<div class="bx" style="left:1137px;top:209px"><div class="r r1"><div class="v"><i class="t"></i>0,00</div><div class="u">A</div></div><div class="r r2"><div class="v"><i class="t"></i>0,00</div><div class="u">Hz</div></div><div class="r r3"><div class="v"><i class="t"></i>0,00</div><div class="u">Hz</div></div></div>
<div class="bx" style="left:1245px;top:95px"><div class="r r1"><div class="v"><i class="t"></i>0,00</div><div class="u">A</div></div><div class="r r2"><div class="v"><i class="t"></i>0,00</div><div class="u">Hz</div></div><div class="r r3"><div class="v"><i class="t"></i>0,00</div><div class="u">Hz</div></div></div>
<div class="bx" style="left:1330px;top:197px"><div class="r r1"><div class="v"><i class="t"></i>0,00</div><div class="u">A</div></div><div class="r r2"><div class="v"><i class="t"></i>0,00</div><div class="u">Hz</div></div><div class="r r3"><div class="v"><i class="t"></i>0,00</div><div class="u">Hz</div></div></div>
<div class="bx" style="left:694px;top:394px"><div class="r r1"><div class="v"><i class="t"></i>0,00</div><div class="u">A</div></div><div class="r r2"><div class="v"><i class="t"></i>0,00</div><div class="u">Hz</div></div><div class="r r3"><div class="v"><i class="t"></i>0,00</div><div class="u">Hz</div></div></div>
<div class="bx" style="left:489px;top:524px"><div class="r r1"><div class="v"><i class="t"></i>0,00</div><div class="u">A</div></div><div class="r r2"><div class="v"><i class="t"></i>0,00</div><div class="u">Hz</div></div><div class="r r3"><div class="v"><i class="t"></i>0,00</div><div class="u">Hz</div></div></div>
<div class="bx" style="left:967px;top:559px"><div class="r r1"><div class="v"><i class="t"></i>0,00</div><div class="u">A</div></div><div class="r r2"><div class="v"><i class="t"></i>0,00</div><div class="u">Hz</div></div><div class="r r3"><div class="v"><i class="t"></i>0,00</div><div class="u">Hz</div></div></div>
<div class="bx" style="left:745px;top:632px"><div class="r r1"><div class="v"><i class="t"></i>0,00</div><div class="u">A</div></div><div class="r r2"><div class="v"><i class="t"></i>0,00</div><div class="u">Hz</div></div><div class="r r3"><div class="v"><i class="t"></i>0,00</div><div class="u">Hz</div></div></div>
<div class="bx" style="left:1541px;top:448px"><div class="r r1"><div class="v"><i class="t"></i>0,00</div><div class="u">A</div></div><div class="r r2"><div class="v"><i class="t"></i>0,00</div><div class="u">Hz</div></div><div class="r r3"><div class="v"><i class="t"></i>0,00</div><div class="u">Hz</div></div></div>
<div class="bx" style="left:1335px;top:782px"><div class="r r1"><div class="v"><i class="t"></i>0,00</div><div class="u">A</div></div><div class="r r2"><div class="v"><i class="t"></i>0,00</div><div class="u">Hz</div></div><div class="r r3"><div class="v"><i class="t"></i>0,00</div><div class="u">Hz</div></div></div>

<!-- single-row boxes -->
<div class="sb" style="left:353px;top:219px;width:86px;height:27px"><div class="sr"><div class="v" style="width:50px"><i class="t" style="left:22px"></i>0,00</div><div class="u" style="left:50px">kPa</div></div></div>
<div class="sb" style="left:849px;top:73px;width:75px;height:26px"><div class="sr"><div class="v" style="width:49px"><i class="t" style="left:20px"></i>+0,00</div><div class="u" style="left:49px">°C</div></div></div>
<div class="sb" style="left:1119px;top:74px;width:73px;height:25px"><div class="sr"><div class="v" style="width:47px"><i class="t" style="left:18px"></i>+0,00</div><div class="u" style="left:47px">°C</div></div></div>

<!-- right panel -->
<div class="pn"></div>
<div class="ph" style="left:1565px;width:79px">SENK.ORANI</div>
<div class="ph" style="left:1648px;width:78px">FREKANS SET</div>
<div class="ph rd" style="left:1729px;width:90px">ÇIKIŞ FREKANSI</div>
<div class="ph rd" style="left:1825px;width:74px">ÇIKIŞ AKIMI</div>

<div class="pl" style="top:65px">DRUM MOTORU ZC1--1M1</div>
<div class="pl" style="top:89px">BASKI TAMBURU ZC1-2M1</div>
<div class="pl" style="top:117px">TRANSFER BANDI1 ZC1-3M1</div>
<div class="pl" style="top:145px">TRANSFER BANDI2 ZC1-4M1</div>
<div class="pl" style="top:173px">PENDELUM BANDI ZC1-5M1</div>
<div class="pl" style="top:202px">PENDELUM KOLU AYARI</div>

<div class="ps" style="top:65px">0,0000</div><div class="ps" style="top:89px">0,0000</div><div class="ps" style="top:117px">0,0000</div><div class="ps" style="top:145px">0,0000</div><div class="ps" style="top:173px">0,0000</div><div class="ps" style="top:202px">0,0000</div>

<div class="pf" style="top:65px"><div class="v"><i class="t"></i>0,00</div><div class="u">Hz</div></div>
<div class="pf" style="top:89px"><div class="v"><i class="t"></i>0,00</div><div class="u">Hz</div></div>
<div class="pf" style="top:117px"><div class="v"><i class="t"></i>0,00</div><div class="u">Hz</div></div>
<div class="pf" style="top:145px"><div class="v"><i class="t"></i>0,00</div><div class="u">Hz</div></div>
<div class="pf" style="top:173px"><div class="v"><i class="t"></i>0,00</div><div class="u">Hz</div></div>
<div class="pf" style="top:202px"><div class="v"><i class="t"></i>0,00</div><div class="u">Hz</div></div>

<div class="pg" style="left:1740px;top:65px"><div class="v"><i class="t"></i>0,00</div><div class="u">Hz</div></div>
<div class="pg" style="left:1740px;top:89px"><div class="v"><i class="t"></i>0,00</div><div class="u">Hz</div></div>
<div class="pg" style="left:1740px;top:117px"><div class="v"><i class="t"></i>0,00</div><div class="u">Hz</div></div>
<div class="pg" style="left:1740px;top:145px"><div class="v"><i class="t"></i>0,00</div><div class="u">Hz</div></div>
<div class="pg" style="left:1740px;top:173px"><div class="v"><i class="t"></i>0,00</div><div class="u">Hz</div></div>
<div class="pg" style="left:1740px;top:202px"><div class="v"><i class="t"></i>0,00</div><div class="u">Hz</div></div>

<div class="pg" style="left:1829px;top:65px"><div class="v"><i class="t"></i>0,00</div><div class="u">A</div></div>
<div class="pg" style="left:1829px;top:89px"><div class="v"><i class="t"></i>0,00</div><div class="u">A</div></div>
<div class="pg" style="left:1829px;top:117px"><div class="v"><i class="t"></i>0,00</div><div class="u">A</div></div>
<div class="pg" style="left:1829px;top:145px"><div class="v"><i class="t"></i>0,00</div><div class="u">A</div></div>
<div class="pg" style="left:1829px;top:173px"><div class="v"><i class="t"></i>0,00</div><div class="u">A</div></div>
<div class="pg" style="left:1829px;top:202px"><div class="v"><i class="t"></i>0,00</div><div class="u">A</div></div>

<div class="bl" style="left:1629px;top:247px;width:209px">ÜRETİM MOD1 ANA HAT HIZI</div>
<div class="bb" style="top:271px"><div class="v"><i class="t"></i>0,00</div><div class="u">m/min</div></div>
<div class="bl" style="left:1630px;top:315px;width:209px">ÜRETİM MOD2 ANA HAT HIZI</div>
<div class="bb" style="top:340px"><div class="v" style="background:repeating-conic-gradient(#a9a58a 0 25%,#cbc6a8 0 50%) 0 0/2px 2px"><i class="t"></i>0,00</div><div class="u">m/min</div></div>
<div class="bl" style="left:1630px;top:389px;width:209px;background:#f0a444;border-color:#555">ZC1 ANA HAT FREKANSI</div>
<div class="bb" style="top:415px"><div class="v" style="background:repeating-conic-gradient(#a97a36 0 25%,#c99a52 0 50%) 0 0/2px 2px"><i class="t"></i>0,00</div><div class="u" style="background:#f0a444">Hz</div></div>
<div class="bl" style="left:1633px;top:452px;width:209px">ZC1 ANA HIZ ARTIR VE AZALT</div>
<div class="bb" style="top:477px"><div class="v"><i class="t"></i>0,00</div><div class="u">m/min</div></div>

<div class="btn" style="left:1644px">ZC1 HAT START</div>
<div class="btn" style="left:1758px">ZC1 HAT STOP</div>
</body></html>
